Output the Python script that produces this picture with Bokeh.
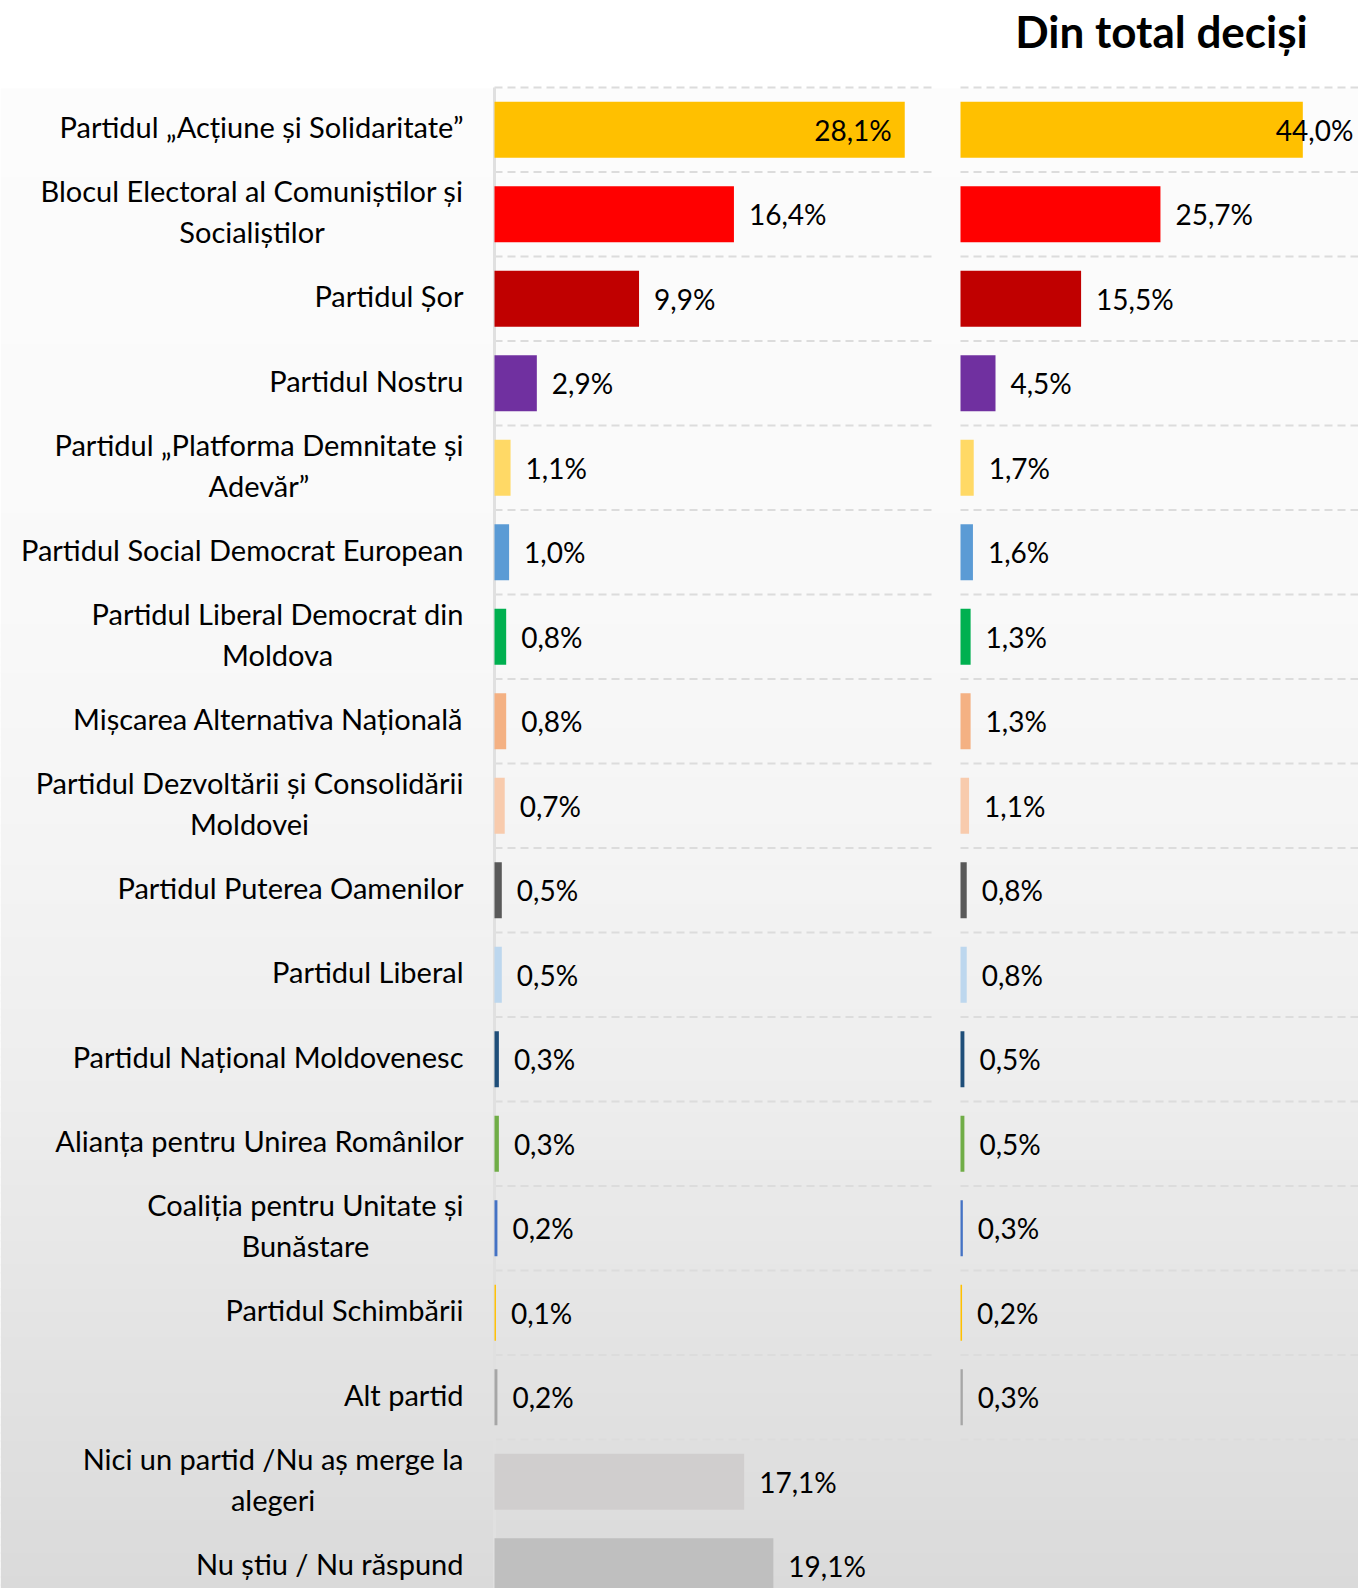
import numpy as np
from bokeh.plotting import figure
from bokeh.models import Range1d, ColumnDataSource, CDSView, IndexFilter
from bokeh.core.properties import value
from bokeh.embed import file_html
from bokeh.resources import INLINE

# ---------------- data ----------------
categories = [
    "Partidul „Acțiune și Solidaritate”",
    "Blocul Electoral al Comuniștilor și\nSocialiștilor",
    "Partidul Șor",
    "Partidul Nostru",
    "Partidul „Platforma Demnitate și\nAdevăr”",
    "Partidul Social Democrat European",
    "Partidul Liberal Democrat din\nMoldova",
    "Mișcarea Alternativa Națională",
    "Partidul Dezvoltării și Consolidării\nMoldovei",
    "Partidul Puterea Oamenilor",
    "Partidul Liberal",
    "Partidul Național Moldovenesc",
    "Alianța pentru Unirea Românilor",
    "Coaliția pentru Unitate și\nBunăstare",
    "Partidul Schimbării",
    "Alt partid",
    "Nici un partid /Nu aș merge la\nalegeri",
    "Nu știu / Nu răspund",
]
total_pct = [28.1, 16.4, 9.9, 2.9, 1.1, 1.0, 0.8, 0.8, 0.7, 0.5, 0.5, 0.3, 0.3, 0.2, 0.1, 0.2, 17.1, 19.1]
decided_pct = [44.0, 25.7, 15.5, 4.5, 1.7, 1.6, 1.3, 1.3, 1.1, 0.8, 0.8, 0.5, 0.5, 0.3, 0.2, 0.3]
bar_colors = ["#FFC000", "#FF0000", "#C00000", "#7030A0", "#FFD966", "#5B9BD5",
              "#00B050", "#F4B183", "#F8CBAD", "#595959", "#BDD7EE", "#1F4E79",
              "#70AD47", "#4472C4", "#FFC000", "#A6A6A6", "#D0CECE", "#BFBFBF"]
title_text = "Din total deciși"

# ---------------- layout ----------------
W, H = 1358, 1588
L0, LPX = 494, 14.6      # left panel zero (px) and px per percent
R0, RPX = 960, 7.78      # right panel zero and px per percent
ROW = 84.5               # px per row band
TOP = 87                 # px from top to first band edge

top_u = -0.5 - TOP / ROW
bottom_u = top_u + H / ROW

p = figure(width=W, height=H, output_backend="svg", toolbar_location=None,
           x_range=Range1d(-L0 / LPX, (W - L0) / LPX),
           y_range=Range1d(bottom_u, top_u),
           x_axis_location=None, y_axis_location=None,
           min_border=0, outline_line_color=None)
p.extra_x_ranges = {"right": Range1d(-R0 / RPX, (W - R0) / RPX)}
p.grid.visible = False
p.background_fill_color = "white"
p.border_fill_color = "white"

# background vertical gradient (styling only)
stops_px = [88, 600, 850, 1100, 1350, 1588]
stops_g = [252, 249, 244, 237, 227, 218]
edges = np.arange(88, H + 8, 8)
g_tops, g_bots, g_cols = [], [], []
for a in edges[:-1]:
    g = int(round(np.interp(a + 4, stops_px, stops_g)))
    g_tops.append(top_u + a / ROW)
    g_bots.append(top_u + (a + 9) / ROW)
    g_cols.append("#%02x%02x%02x" % (g, g, g))
p.quad(left=p.x_range.start, right=p.x_range.end, top=g_tops, bottom=g_bots,
       fill_color=g_cols, line_color=None)

n = len(categories)
rows = list(range(n))

# gridlines (dashed), both panels
grid_y = [r - 0.5 for r in rows]
p.segment(x0=0, x1=(932 - L0) / LPX, y0=grid_y, y1=grid_y,
          line_color="#DCDCDC", line_width=2, line_dash="8 5")
p.segment(x0=0, x1=(W - R0) / RPX + 1, y0=grid_y, y1=grid_y,
          line_color="#DCDCDC", line_width=2, line_dash="8 5", x_range_name="right")
# left axis line
p.segment(x0=[0], x1=[0], y0=[-0.5], y1=[n], line_color="#E0E0E0", line_width=3)

def fmt(v):
    return ("%.1f" % v).replace(".", ",") + "%"

BH = 56 / ROW
left_src = ColumnDataSource(dict(y=rows, v=total_pct, c=bar_colors,
                                 lab=[fmt(v) for v in total_pct], cat=categories))
m = len(decided_pct)
right_src = ColumnDataSource(dict(y=rows[:m], v=decided_pct, c=bar_colors[:m],
                                  lab=[fmt(v) for v in decided_pct]))

p.hbar(y="y", left=0, right="v", height=BH, fill_color="c", line_color=None, source=left_src)
p.hbar(y="y", left=0, right="v", height=BH, fill_color="c", line_color=None,
       source=right_src, x_range_name="right")

FONT = value("Lato")
VSIZE = "28px"
# value labels: first row inside end, others outside end
p.text(x="v", y="y", text="lab", source=left_src, view=CDSView(filter=IndexFilter([0])),
       text_align="right", text_baseline="middle", x_offset=-13,
       text_font=FONT, text_font_size=VSIZE, text_color="black")
p.text(x="v", y="y", text="lab", source=left_src, view=CDSView(filter=IndexFilter(rows[1:])),
       text_align="left", text_baseline="middle", x_offset=15,
       text_font=FONT, text_font_size=VSIZE, text_color="black")
p.text(x="v", y="y", text="lab", source=right_src, view=CDSView(filter=IndexFilter([0])),
       text_align="left", text_baseline="middle", x_offset=-27,
       text_font=FONT, text_font_size=VSIZE, text_color="black", x_range_name="right")
p.text(x="v", y="y", text="lab", source=right_src, view=CDSView(filter=IndexFilter(rows[1:m])),
       text_align="left", text_baseline="middle", x_offset=15,
       text_font=FONT, text_font_size=VSIZE, text_color="black", x_range_name="right")

# category labels (right-aligned block, centered lines)
p.text(x=-31 / LPX, y="y", text="cat", source=left_src,
       text_align="center", anchor="center_right", text_line_height=1.17, y_offset=-3,
       text_font=FONT, text_font_size="29px", text_color="black")

# title
p.text(x=[(1161 - R0) / RPX], y=[top_u + 30 / ROW], text=[title_text],
       text_align="center", text_baseline="middle",
       text_font=FONT, text_font_style="bold", text_font_size="44px",
       text_color="black", x_range_name="right")

open("out.html", "w").write(file_html(p, INLINE))
